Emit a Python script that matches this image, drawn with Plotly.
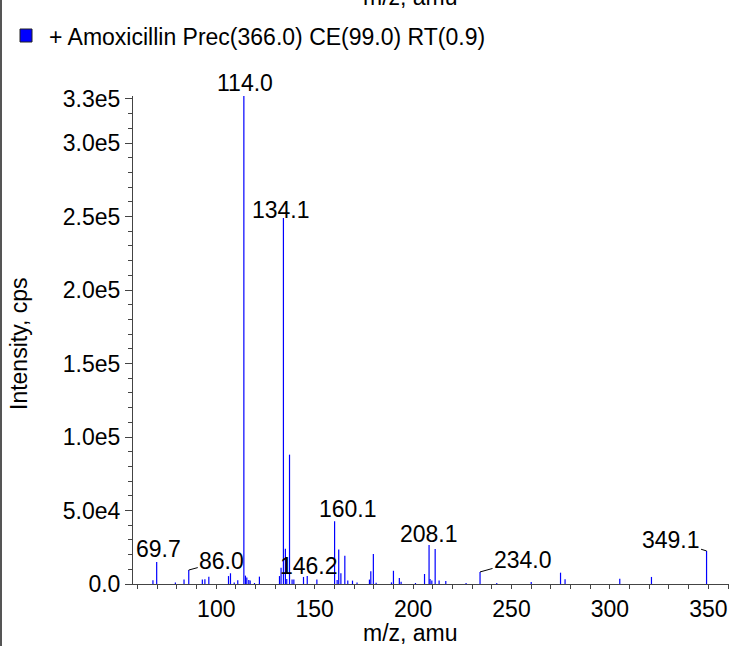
import plotly.graph_objects as go

# ---- data ----
mz = [67.8, 69.7, 79.2, 83.6, 86.0, 92.9, 94.2, 96.2, 106.2, 107.2, 109.1, 110.9,
      114.0, 114.8, 115.5, 116.5, 117.2, 119.4, 121.9, 132.1, 132.9, 134.1, 135.1,
      135.8, 137.2, 138.5, 139.4, 144.3, 146.2, 151.1, 160.1, 161.4, 162.2, 163.3,
      165.3, 166.8, 169.2, 171.5, 177.8, 178.5, 179.8, 181.2, 189.0, 190.0, 193.0,
      193.9, 201.2, 205.8, 208.1, 208.6, 209.5, 211.2, 213.2, 216.6, 226.9, 234.0,
      242.5, 260.0, 274.9, 277.2, 305.0, 321.1, 349.1]
intensity = [2600, 15000, 1100, 3000, 9500, 3000, 3200, 5000, 5400, 7300, 1100, 2500,
             332000, 5700, 4500, 2700, 2300, 700, 5000, 5400, 11000, 249000, 24000,
             3400, 88000, 3000, 3000, 4800, 5400, 3000, 42700, 2700, 23400, 7300,
             19300, 2300, 2300, 1100, 3000, 8600, 20400, 900, 1100, 9000, 4000,
             1600, 700, 6800, 26500, 3400, 2300, 23800, 2300, 2000, 700, 8200,
             700, 1400, 7700, 3200, 3600, 4800, 22500]

label_mz = ["114.0", "134.1", "160.1", "69.7", "86.0", "146.2", "208.1", "234.0", "349.1"]
label_int = [332000, 249000, 42700, 15000, 9500, 5400, 26500, 8200, 22500]

ytick_vals = [0, 50000, 100000, 150000, 200000, 250000, 300000, 330000]
ytick_text = ["0.0", "5.0e4", "1.0e5", "1.5e5", "2.0e5", "2.5e5", "3.0e5", "3.3e5"]
xtick_vals = [100, 150, 200, 250, 300, 350]

legend_text = "+ Amoxicillin Prec(366.0) CE(99.0) RT(0.9)"
x_range = [57.67, 360.5]
y_range = [0, 332000]

FONT = "Liberation Sans, Arial, Helvetica, sans-serif"
FS = 23
BLUE = "#0000ff"
AX = "#444444"

# stick spectrum
xs, ys = [], []
for m, i in zip(mz, intensity):
    xs += [m, m, None]
    ys += [0, i, None]

W, H = 730, 646
ml, mr, mt, mb = 133, 1, 96, 62
pw = W - ml - mr
ph = H - mt - mb
px_per_unit = pw / (x_range[1] - x_range[0])

fig = go.Figure()
fig.add_trace(go.Scatter(x=xs, y=ys, mode="lines",
                         line=dict(color=BLUE, width=1.2),
                         hoverinfo="skip", showlegend=False))

# triangle marker at baseline, left of the axis
fig.add_trace(go.Scatter(x=[x_range[0] - 6 / px_per_unit], y=[0], mode="markers",
                         marker=dict(symbol="triangle-right", size=15, color=BLUE,
                                     line=dict(color="#000080", width=0.5)),
                         cliponaxis=False, showlegend=False, hoverinfo="skip"))

annotations = []
leader = {"86.0": (33, -9), "234.0": (43, -12), "349.1": (-36, -11)}
shifts = {"114.0": (1, -2), "134.1": (-2, -7), "160.1": (13, -3), "69.7": (2, -2),
          "146.2": (2, -5), "208.1": (0, -4)}
for lab, yi in zip(label_mz, label_int):
    xv = float(lab)
    if lab in leader:
        ax, ay = leader[lab]
        annotations.append(dict(x=xv, y=yi, xref="x", yref="y", text=lab,
                                showarrow=True, arrowhead=0, arrowwidth=1,
                                arrowcolor="#000000", ax=ax, ay=ay,
                                font=dict(size=FS, color="#000000", family=FONT)))
    else:
        dx, dy = shifts[lab]
        annotations.append(dict(x=xv, y=yi, xref="x", yref="y", text=lab,
                                showarrow=False, yanchor="bottom", xshift=dx, yshift=dy,
                                font=dict(size=FS, color="#000000", family=FONT)))

# legend text
annotations.append(dict(x=(47 - ml) / pw, y=(H - mb - 37) / ph, xref="paper", yref="paper",
                        text=legend_text, showarrow=False, xanchor="left", yanchor="middle",
                        font=dict(size=FS, color="#000000", family=FONT)))
# cut-off title of the panel above
annotations.append(dict(x=(410 - ml) / pw, y=(H - mb + 3) / ph, xref="paper", yref="paper",
                        text="m/z, amu", showarrow=False, xanchor="center", yanchor="middle",
                        font=dict(size=FS, color="#000000", family=FONT)))
# y-axis title
annotations.append(dict(x=(19 - ml) / pw, y=(H - mb - 344) / ph, xref="paper", yref="paper",
                        text="Intensity, cps", showarrow=False, textangle=-90,
                        xanchor="center", yanchor="middle",
                        font=dict(size=FS, color="#000000", family=FONT)))
# x-axis title
annotations.append(dict(x=(410 - ml) / pw, y=(H - mb - 633) / ph, xref="paper", yref="paper",
                        text="m/z, amu", showarrow=False,
                        xanchor="center", yanchor="middle",
                        font=dict(size=FS, color="#000000", family=FONT)))

shapes = [
    dict(type="rect", xref="paper", yref="paper",
         x0=(20 - ml) / pw, x1=(32 - ml) / pw,
         y0=(H - mb - 42) / ph, y1=(H - mb - 29) / ph,
         fillcolor=BLUE, line=dict(color="#222222", width=1)),
    dict(type="line", xref="paper", yref="paper",
         x0=(1 - ml) / pw, x1=(1 - ml) / pw, y0=-0.3, y1=1.4,
         line=dict(color="#555555", width=2)),
]

fig.update_layout(
    width=W, height=H,
    margin=dict(l=ml, r=mr, t=mt, b=mb),
    paper_bgcolor="white", plot_bgcolor="white",
    font=dict(family=FONT, size=FS, color="#000000"),
    showlegend=False,
    annotations=annotations,
    shapes=shapes,
    xaxis=dict(range=x_range, tickmode="array", tickvals=xtick_vals,
               showgrid=False, zeroline=False, showline=True, linecolor=AX, linewidth=1,
               ticks="outside", ticklen=4, tickcolor=AX, tickwidth=1,
               tickfont=dict(size=FS, family=FONT, color="#000000"),
               minor=dict(dtick=10, tick0=0, ticks="outside", ticklen=4, tickcolor=AX)),
    yaxis=dict(range=y_range, tickmode="array", tickvals=ytick_vals, ticktext=ytick_text,
               showgrid=False, zeroline=False, showline=True, linecolor=AX, linewidth=1,
               ticks="outside", ticklen=7, tickcolor=AX, tickwidth=1,
               tickfont=dict(size=FS, family=FONT, color="#000000"),
               minor=dict(dtick=10000, tick0=0, ticks="outside", ticklen=4, tickcolor=AX)),
)

fig.write_html("out.html", config={"displayModeBar": False},
               post_script="document.body.style.margin='0';")
